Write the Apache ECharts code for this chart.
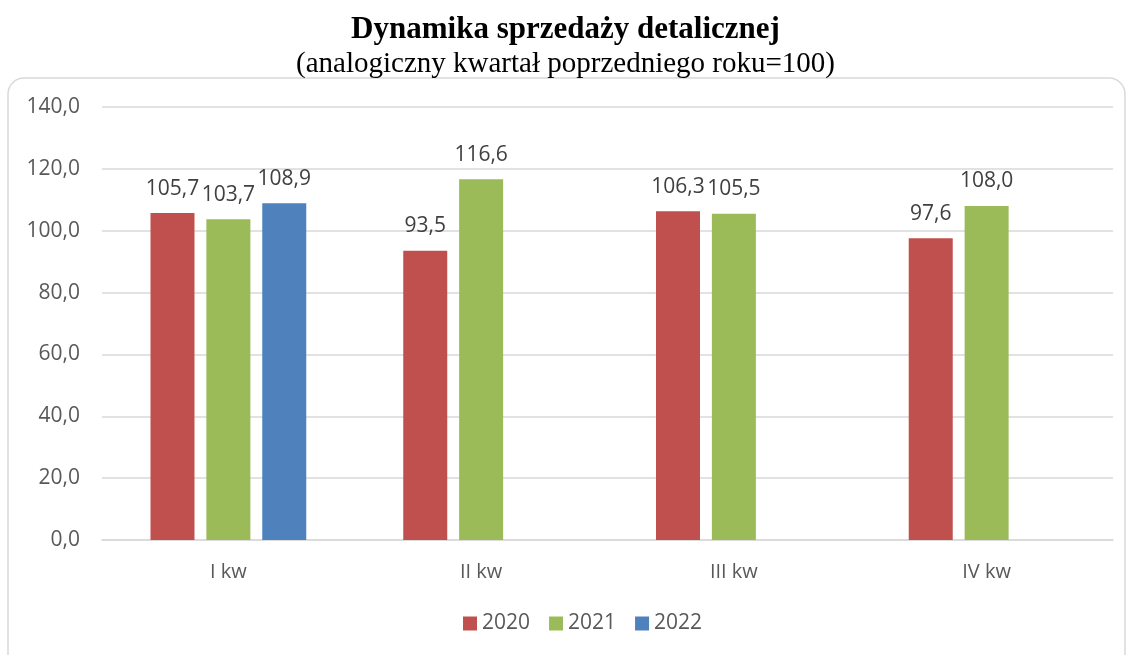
<!DOCTYPE html>
<html><head><meta charset="utf-8">
<script src="https://cdn.jsdelivr.net/npm/echarts@6/dist/echarts.min.js"></script>
<style>html,body{margin:0;padding:0;background:#fff}#c{width:1131px;height:655px}</style>
</head><body><div id="c"></div>
<script>
const categories = ['I kw', 'II kw', 'III kw', 'IV kw'];
const seriesNames = ['2020', '2021', '2022'];
const values2020 = [105.7, 93.5, 106.3, 97.6];
const values2021 = [103.7, 116.6, 105.5, 108.0];
const values2022 = [108.9, null, null, null];
const colors = ['#C0504D', '#9BBB59', '#4F81BD'];
const fmt = v => v.toFixed(1).replace('.', ',');
const font = 'Open Sans';
const chart = echarts.init(document.getElementById('c'));
const mk = (name, data, color) => ({
  name, type: 'bar', data, barWidth: 44, barGap: '27%',
  itemStyle: { color },
  label: { show: true, position: 'top', distance: 14, color: '#404040', fontSize: 21, fontFamily: font,
    formatter: p => fmt(p.value) }
});
chart.setOption({
  animation: false,
  graphic: [{ type: 'rect', shape: { x: 8, y: 78, width: 1117, height: 600, r: 16 },
    style: { fill: 'none', stroke: '#d9d9d9', lineWidth: 1.5 }, z: -1 }],
  title: [
    { text: 'Dynamika sprzedaży detalicznej', left: 'center', top: 9,
      textStyle: { fontFamily: 'Liberation Serif', fontWeight: 'bold', fontSize: 31, color: '#000' } },
    { text: '(analogiczny kwartał poprzedniego roku=100)', left: 'center', top: 45,
      textStyle: { fontFamily: 'Liberation Serif', fontWeight: 'normal', fontSize: 29, color: '#000' } }
  ],
  legend: { bottom: 16, left: 458, itemWidth: 14, itemHeight: 14, itemGap: 19,
    icon: 'rect', textStyle: { fontFamily: font, fontSize: 21, color: '#595959' }, data: seriesNames },
  grid: { left: 102, right: 18, top: 107, bottom: 115, containLabel: false },
  xAxis: { type: 'category', data: categories,
    axisLine: { lineStyle: { color: '#d9d9d9', width: 1.5 } }, axisTick: { show: false },
    axisLabel: { fontFamily: font, fontSize: 20, color: '#595959', margin: 22 } },
  yAxis: { type: 'value', min: 0, max: 140, interval: 20,
    axisLine: { show: false }, axisTick: { show: false },
    splitLine: { lineStyle: { color: '#d9d9d9', width: 1.5 } },
    axisLabel: { fontFamily: font, fontSize: 21, color: '#595959', margin: 22, formatter: v => fmt(v) } },
  series: [mk(seriesNames[0], values2020, colors[0]), mk(seriesNames[1], values2021, colors[1]), mk(seriesNames[2], values2022, colors[2])]
});
</script></body></html>
